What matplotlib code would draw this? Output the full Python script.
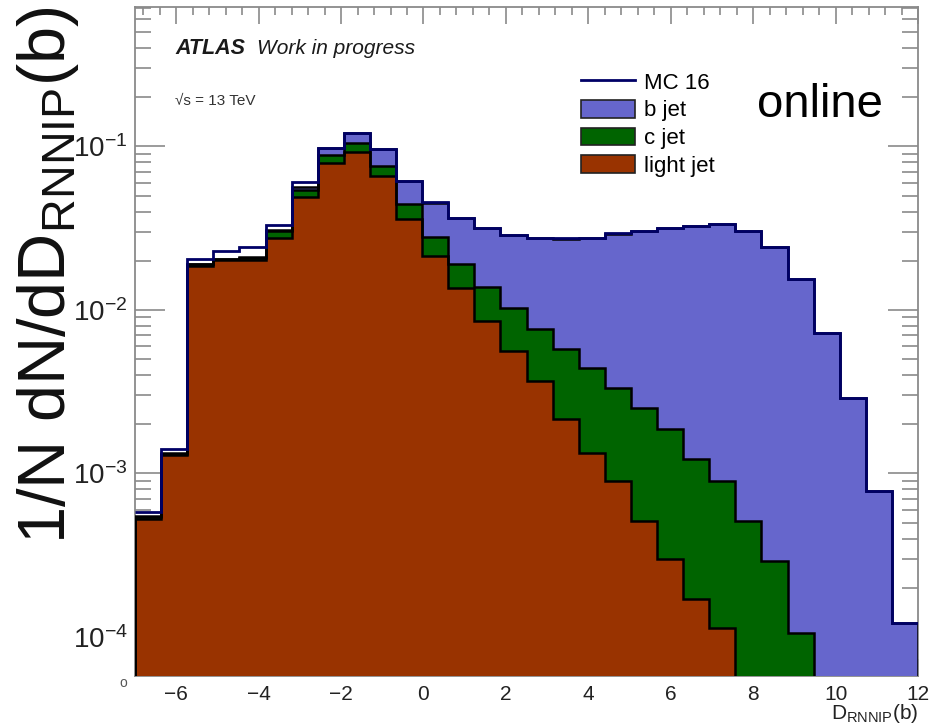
import numpy as np
import matplotlib
matplotlib.use("Agg")
import matplotlib.pyplot as plt
from matplotlib.lines import Line2D
from matplotlib.patches import Patch
from matplotlib.ticker import MultipleLocator, LogLocator, NullFormatter

plt.rcParams['font.family'] = ['Liberation Sans', 'DejaVu Sans']
plt.rcParams['mathtext.fontset'] = 'custom'
plt.rcParams['mathtext.rm'] = 'Liberation Sans'
plt.rcParams['mathtext.it'] = 'Liberation Sans:italic'
plt.rcParams['mathtext.bf'] = 'Liberation Sans:bold'

# D_RNNIP(b) binning: 30 bins between -7 and 12
bin_edges = np.linspace(-7, 12, 31)

# normalised fractions per bin, one array per flavour
light_jet = [5.3e-4, 1.30e-3, 0.0187, 0.0201, 0.0201, 0.0276, 0.0489, 0.0797,
             0.0919, 0.0664, 0.0360, 0.0214, 0.0136, 0.0086, 0.0056, 0.0037,
             0.00216, 0.00133, 0.00090, 0.00051, 0.00030, 0.00017, 0.000113,
             0, 0, 0, 0, 0, 0, 0]
c_jet = [1e-5, 2e-5, 4e-4, 4e-4, 8e-4, 0.0028, 0.0053, 0.0092,
         0.0131, 0.0100, 0.0083, 0.0066, 0.0054, 0.0052, 0.0047, 0.0040,
         0.0036, 0.0031, 0.00245, 0.0020, 0.00156, 0.00105, 0.00079,
         0.00051, 0.00029, 0.000106, 0, 0, 0, 0]
b_jet = [1e-5, 1e-5, 1e-4, 1e-4, 2e-4, 4e-4, 0.0021, 0.0088,
         0.0158, 0.0200, 0.0175, 0.0172, 0.0173, 0.0177, 0.0183, 0.0199,
         0.0216, 0.0230, 0.0260, 0.0280, 0.0299, 0.0315, 0.0326,
         0.0300, 0.0240, 0.0153, 0.00719, 0.00288, 0.00078, 0.000122]
# total MC16 distribution drawn as a line
mc16 = [5.8e-4, 1.42e-3, 0.0204, 0.0230, 0.0243, 0.0333, 0.0604, 0.0977,
        0.1208, 0.0964, 0.0618, 0.0459, 0.0363, 0.0315, 0.0286, 0.0276,
        0.0274, 0.0274, 0.0294, 0.0305, 0.0318, 0.0327, 0.0335,
        0.0305, 0.0243, 0.0154, 0.00719, 0.00288, 0.00078, 0.000122]

col_b = '#6666cc'
col_c = '#006400'
col_l = '#993300'
col_mc = '#000066'
floor = 1e-7

fig = plt.figure(figsize=(9.4, 7.27), dpi=100)
ax = fig.add_axes([135 / 940, 1 - 676 / 727, (918 - 135) / 940, (676 - 7) / 727])
ax.set_yscale('log')
ax.set_axisbelow(True)

light = np.array(light_jet)
light_c = light + np.array(c_jet)
total = light_c + np.array(b_jet)

# stacked histogram: b on top of c on top of light
for vals, col in [(total, col_b), (light_c, col_c), (light, col_l)]:
    v = np.maximum(vals, floor)
    ax.stairs(v, bin_edges, baseline=floor, fill=True, facecolor=col,
              edgecolor='none', zorder=2)
    ax.stairs(v, bin_edges, baseline=floor, color='black', lw=1.8, zorder=3)

ax.stairs(mc16, bin_edges, baseline=None, color=col_mc, lw=2.0, zorder=4)

ax.set_xlim(-7, 12)
ax.set_ylim(5.77e-5, 0.713)

ax.xaxis.set_major_locator(MultipleLocator(2))
ax.xaxis.set_minor_locator(MultipleLocator(0.4))
ax.yaxis.set_major_locator(LogLocator(base=10))
ax.yaxis.set_minor_locator(LogLocator(base=10, subs=np.arange(2, 10)))
ax.yaxis.set_minor_formatter(NullFormatter())

frame = '#8a8a8a'
ax.tick_params(axis='x', which='both', direction='in', top=True, bottom=True,
               color=frame, width=1.2, labelsize=15, pad=6.5, labelcolor='#222222')
ax.tick_params(axis='x', which='major', length=12)
ax.tick_params(axis='x', which='minor', length=6)
ax.tick_params(axis='y', which='both', direction='in', left=True, right=True,
               color=frame, width=1.2, labelsize=20, pad=5.5, labelcolor='#222222')
ax.tick_params(axis='y', which='major', length=21.5)
ax.tick_params(axis='y', which='minor', length=11.5)
for sp in ax.spines.values():
    sp.set_color(frame)
    sp.set_linewidth(1.3)
    sp.set_zorder(0.6)

# axis titles
fig.text(48 / 940, 1 - 275 / 727, r'1/N dN/dD$_{\mathregular{RNNIP}}$(b)',
         rotation=90, fontsize=48, ha='center', va='center', color='#111111')
fig.text(918 / 940, 1 - 719 / 727, r'D$_{\mathregular{RNNIP}}$(b)',
         fontsize=15, ha='right', va='baseline', color='#222222')
fig.text(123 / 940, 1 - 683 / 727, 'o', fontsize=10, ha='center', va='center',
         color='#555555')

# labels in the pad
fig.text(175 / 940, 1 - 54 / 727, 'ATLAS', fontsize=15.5, fontweight='bold',
         style='italic', va='baseline', color='#1a1a1a')
fig.text(257 / 940, 1 - 54 / 727, 'Work in progress', fontsize=15,
         style='italic', va='baseline', color='#1a1a1a')
fig.text(175 / 940, 1 - 105 / 727, '\u221as = 13 TeV', fontsize=11,
         va='baseline', color='#333333')
fig.text(757 / 940, 1 - 117 / 727, 'online', fontsize=34, va='baseline',
         color='black')

handles = [Line2D([], [], color=col_mc, lw=2.0),
           Patch(facecolor=col_b, edgecolor='#222222', lw=1.2),
           Patch(facecolor=col_c, edgecolor='#222222', lw=1.2),
           Patch(facecolor=col_l, edgecolor='#222222', lw=1.2)]
labels = ['MC 16', 'b jet', 'c jet', 'light jet']
ax.legend(handles, labels, loc='upper left',
          bbox_to_anchor=(581 / 940, 1 - 72 / 727), bbox_transform=fig.transFigure,
          frameon=False, fontsize=16, handlelength=2.45, handleheight=0.85,
          handletextpad=0.4, labelspacing=0.28, borderpad=0, borderaxespad=0)

fig.savefig('out.png', dpi=100)
